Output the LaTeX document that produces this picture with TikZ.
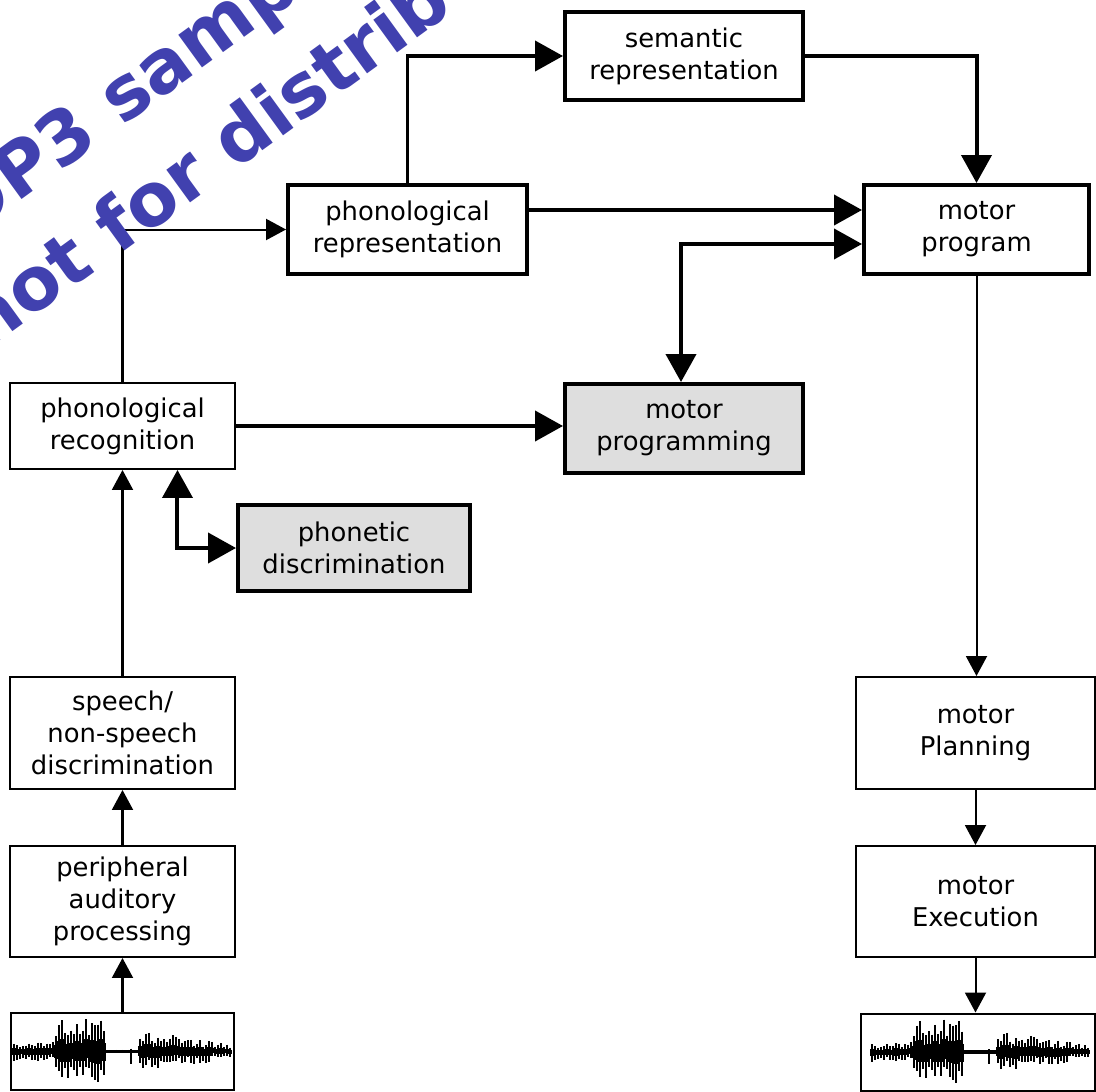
\documentclass[tikz,border=0pt]{standalone}
\usepackage{fontspec}
\setmainfont{DejaVu Sans}
\usetikzlibrary{arrows.meta}
\definecolor{markblue}{RGB}{65,65,175}
\definecolor{boxgray}{RGB}{222,222,222}

\tikzset{
  speechwave/.pic={
    \pgfmathsetseed{11}
    \draw[line width=2pt] (0,0) -- (218,0);
    \foreach \i in {0,...,72}{
      \pgfmathsetmacro\xx{\i*3}
      \pgfmathsetmacro\env{\xx<40 ? 10 : (\xx<92 ? 35 : (\xx<124 ? 2 : 22-0.16*(\xx-124)))}
      \pgfmathsetmacro\up{\env*(0.4+0.6*rnd)}
      \pgfmathsetmacro\dn{\env*(0.4+0.6*rnd)}
      \draw[line width=1.1pt] (\xx,-\up) -- (\xx,\dn);
      \draw[line width=2.6pt] (\xx,-0.4*\up) -- (\xx,0.4*\dn);
    }
    \draw[line width=1.2pt] (117,-3) -- (117,12);
  }
}

\begin{document}
\begin{tikzpicture}[x=0.02cm, y=-0.02cm,
	box/.style={draw, line width=1.14pt, inner sep=0pt, align=center, font=\fontsize{14.7pt}{18.2pt}\selectfont},
	heavybox/.style={box, line width=2.27pt},
	shadedbox/.style={heavybox, fill=boxgray},
	lightarrow/.style={line width=1.14pt, -{Triangle[length=0.4cm, width=0.42cm]}},
	heavyarrow/.style={line width=2.27pt, -{Triangle[length=0.56cm, width=0.6cm]}},
	heavyboth/.style={line width=2.27pt, {Triangle[length=0.56cm, width=0.6cm]}-{Triangle[length=0.56cm, width=0.6cm]}},
	watermark/.style={text=markblue, font=\fontsize{42pt}{50pt}\bfseries, rotate=36, anchor=base west, inner sep=0pt},
]
\useasboundingbox (0,0) rectangle (1096,1092);

\node[heavybox, minimum width=4.76cm, minimum height=1.76cm] (semrep) at (684,56) {semantic\\representation};
\node[heavybox, minimum width=4.78cm, minimum height=1.78cm] (phonrep) at (407.5,229.5) {phonological\\representation};
\node[heavybox, minimum width=4.5cm, minimum height=1.78cm] (motprog) at (976.5,229.5) {motor\\program};
\node[box, minimum width=4.5cm, minimum height=1.72cm] (phonrec) at (122.5,426) {phonological\\recognition};
\node[shadedbox, minimum width=4.76cm, minimum height=1.78cm] (motprogramming) at (684,428.5) {motor\\programming};
\node[shadedbox, minimum width=4.64cm, minimum height=1.72cm] (phonetic) at (354,548) {phonetic\\discrimination};
\node[box, minimum width=4.5cm, minimum height=2.24cm] (speech) at (122.5,733) {speech/\\non-speech\\discrimination};
\node[box, minimum width=4.5cm, minimum height=2.22cm] (periph) at (122.5,901.5) {peripheral\\auditory\\processing};
\node[box, minimum width=4.46cm, minimum height=1.54cm] (wavein) at (122.5,1051.5) {};
\node[box, minimum width=4.78cm, minimum height=2.24cm] (planning) at (975.5,733) {motor\\Planning};
\node[box, minimum width=4.78cm, minimum height=2.22cm] (execution) at (975.5,901.5) {motor\\Execution};
\node[box, minimum width=4.68cm, minimum height=1.54cm] (waveout) at (978,1052) {};

\pic at ([xshift=0.08cm]wavein.west) {speechwave};
\pic at ([xshift=0.24cm]waveout.west) {speechwave};

% input side
\draw[lightarrow] (wavein.north) -- (periph.south);
\draw[lightarrow] (periph.north) -- (speech.south);
\draw[lightarrow] (speech.north) -- (phonrec.south);
\draw[lightarrow] (phonrec.north) |- (phonrep.west);
\draw[heavyarrow] (phonrec.east) -- (phonrec.east -| motprogramming.west);
\draw[heavyboth] ([xshift=1.1cm]phonrec.south) |- (phonetic.west);
% central routes
\draw[heavyarrow] (phonrep.north) |- (semrep.west);
\draw[heavyarrow] (semrep.east) -| (motprog.north);
\draw[heavyarrow] ([yshift=0.39cm]phonrep.east) -- ([yshift=0.39cm]motprog.west);
\draw[heavyboth] ([xshift=-0.06cm]motprogramming.north) |- ([yshift=-0.29cm]motprog.west);
% output side
\draw[lightarrow] (motprog.south) -- (motprog.south |- planning.north);
\draw[lightarrow] (planning.south) -- (execution.north);
\draw[lightarrow] (execution.south) -- (execution.south |- waveout.north);

\begin{scope}
\clip (0,0) rectangle (1096,1092);
\node[watermark] (marktop) at (-35,241) {OP3 sample};
\node[watermark] (markbottom) at (-15,352) {not for distrib};
\end{scope}
\end{tikzpicture}
\end{document}
